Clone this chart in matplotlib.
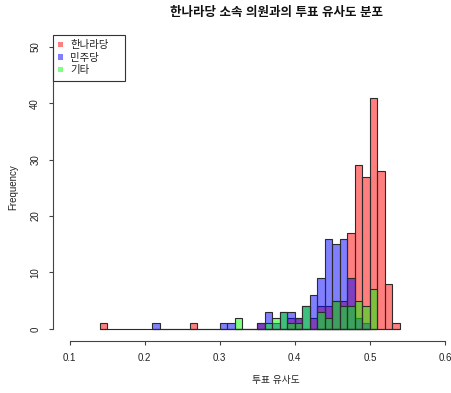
import numpy as np
import matplotlib
matplotlib.use("Agg")
import matplotlib.pyplot as plt
from matplotlib.patches import Patch, Rectangle

plt.rcParams["font.family"] = ["Liberation Sans", "Noto Sans CJK KR", "DejaVu Sans"]

# bin width 0.01; each series: bin left edges with non-zero counts
hannara_bins = [0.14, 0.26, 0.35, 0.39, 0.40, 0.42, 0.43, 0.44, 0.45, 0.46,
                0.47, 0.48, 0.49, 0.50, 0.51, 0.52, 0.53]
hannara_counts = [1, 1, 1, 2, 2, 2, 4, 4, 5, 5, 17, 29, 27, 41, 28, 8, 1]

minju_bins = [0.21, 0.30, 0.31, 0.35, 0.36, 0.37, 0.38, 0.39, 0.40, 0.41,
              0.42, 0.43, 0.44, 0.45, 0.46, 0.47, 0.48, 0.49]
minju_counts = [1, 1, 1, 1, 3, 1, 3, 3, 2, 4, 6, 9, 16, 15, 16, 9, 2, 1]

other_bins = [0.32, 0.36, 0.37, 0.38, 0.39, 0.40, 0.41, 0.43, 0.44, 0.45,
              0.46, 0.47, 0.48, 0.49, 0.50]
other_counts = [2, 1, 2, 3, 1, 1, 4, 3, 2, 5, 4, 4, 5, 4, 7]

labels = ["한나라당", "민주당", "기타"]
colors = [(1, 0, 0, 0.5), (0, 0, 1, 0.5), (0, 1, 0, 0.5)]
BW = 0.01
EDGE = "#2b2b2b"

W, H = 451, 393
fig = plt.figure(figsize=(W / 100, H / 100), dpi=100)
ax = fig.add_axes([53 / W, (H - 340.6) / H, 446 / W, (340.6 - 35) / H])

series = [(hannara_bins, hannara_counts), (minju_bins, minju_counts), (other_bins, other_counts)]
for (bins, counts), col in zip(series, colors):
    # empty bins in R's hist show up as a flat line along zero
    ax.hlines(0, bins[0], bins[-1] + BW, color=EDGE, linewidth=0.8)
    ax.bar(bins, counts, width=BW, align="edge", color=col,
           edgecolor=EDGE, linewidth=0.8)

ax.set_xlim(0.078, 0.672)
ax.set_ylim(-2.08, 52.08)
ax.set_xticks([0.1, 0.2, 0.3, 0.4, 0.5, 0.6])
ax.set_yticks([0, 10, 20, 30, 40, 50])
for s in ["top", "right"]:
    ax.spines[s].set_visible(False)
ax.spines["bottom"].set_bounds(0.1, 0.6)
ax.spines["left"].set_bounds(0, 50)
for s in ["bottom", "left"]:
    ax.spines[s].set_color("#444444")
    ax.spines[s].set_linewidth(0.8)
ax.tick_params(direction="out", length=3.2, width=0.8, color="#444444",
               labelsize=7, labelcolor="#222222", pad=6)
for lab in ax.get_yticklabels():
    lab.set_rotation(90)
    lab.set_va("center")

fig.text(276 / W, 1 - 13 / H, "한나라당 소속 의원과의 투표 유사도 분포",
         ha="center", va="center", fontsize=9, fontweight="bold", color="#111111")
fig.text(276 / W, 1 - 380 / H, "투표 유사도", ha="center", va="center",
         fontsize=7, color="#222222")
fig.text(13 / W, 1 - 187 / H, "Frequency", ha="center", va="center",
         rotation=90, fontsize=7, color="#222222")

# legend box like R's legend("topleft")
fig.patches.append(Rectangle((53 / W, 1 - 81 / H), 72 / W, 46 / H,
                             transform=fig.transFigure, fill=False,
                             edgecolor="#333333", linewidth=0.8))
handles = [Patch(facecolor=c, edgecolor="none") for c in colors]
leg = fig.legend(handles, labels, loc="upper left",
                 bbox_to_anchor=(56 / W, 1 - 38 / H), frameon=False,
                 fontsize=7.5, handlelength=0.45, handleheight=0.45,
                 handletextpad=0.7, labelspacing=0.25, borderpad=0.2,
                 borderaxespad=0)
for t in leg.get_texts():
    t.set_color("#222222")

fig.savefig("out.png", dpi=100)
